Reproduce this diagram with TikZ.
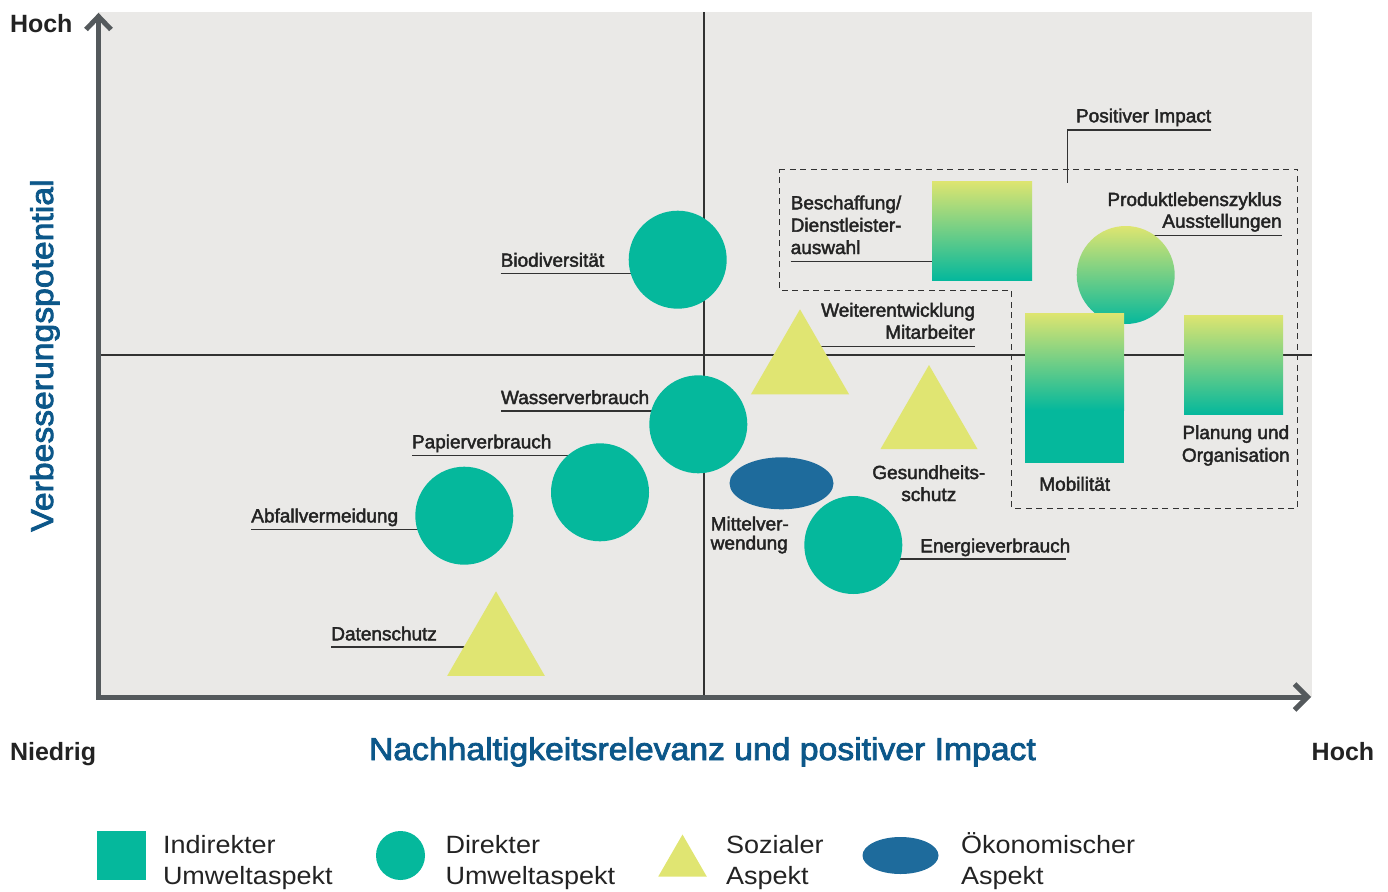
\documentclass[tikz,border=0pt]{standalone}
\usepackage{fontspec}
\setmainfont{Liberation Sans}
\newfontfamily\lblfont{Liberation Sans}[FakeBold=2.2]
\newfontfamily\ttlfont{Liberation Sans}[FakeBold=2.6,FakeStretch=1.07]
\newfontfamily\legfont{Liberation Sans}[FakeStretch=1.08]
\usetikzlibrary{shapes.geometric,calc}
\definecolor{gy}{RGB}{222,229,112}
\definecolor{gt}{RGB}{5,184,156}
\definecolor{tri}{RGB}{224,229,114}
\definecolor{ell}{RGB}{30,107,156}
\definecolor{panel}{RGB}{234,233,231}
\definecolor{axisc}{RGB}{84,89,92}
\definecolor{txt}{RGB}{35,35,35}
\definecolor{ttlblue}{RGB}{12,87,137}
\definecolor{linec}{RGB}{50,50,50}
\pgfdeclarelayer{bg}
\pgfdeclarelayer{lines}
\pgfsetlayers{bg,lines,main}
\begin{document}
\begin{tikzpicture}[x=1pt,y=-1pt,
  lbl/.style={font=\lblfont\fontsize{19}{22}\selectfont, text=txt, inner sep=0pt, outer sep=0pt},
  leg/.style={font=\legfont\fontsize{25}{30}\selectfont, text=txt, inner sep=0pt, outer sep=0pt, anchor=base west},
  ttl/.style={font=\ttlfont\fontsize{31.5}{36}\selectfont, text=ttlblue, inner sep=0pt, outer sep=0pt, anchor=base west},
  ends/.style={font=\bfseries\fontsize{25}{30}\selectfont, text=txt, inner sep=0pt, outer sep=0pt, anchor=base west},
  dot/.style={circle, minimum size=98pt, inner sep=0pt, outer sep=0pt, fill=gt},
  tria/.style={regular polygon, regular polygon sides=3, inner sep=0pt, outer sep=0pt, fill=tri},
  grad/.style={rectangle, inner sep=0pt, outer sep=0pt, top color=gy, bottom color=gt},
  uline/.style={draw=linec, line width=1.3pt},
  midline/.style={draw=linec, line width=1.4pt},
  dashbox/.style={draw=linec, line width=1.5pt, dash pattern=on 6pt off 4.5pt},
  axisline/.style={draw=axisc, line width=5pt, line join=miter}
]
\useasboundingbox (0,0) rectangle (1388,891);
\begin{pgfonlayer}{bg}
  \fill[panel] (98,12) rectangle (1312,697);
\end{pgfonlayer}

% ---- shapes ----
\node[dot] (bio) at (677.7,259.7) {};
\node[dot] (wasser) at (698.3,424.3) {};
\node[dot] (papier) at (600,492.3) {};
\node[dot] (abfall) at (464.3,515.7) {};
\node[dot] (energie) at (853.3,545) {};
\node[tria, minimum size=112.6pt] (daten) at (496,647.6) {};
\node[tria, minimum size=113.4pt] (weiter) at (800,366) {};
\node[tria, minimum size=112pt] (gesund) at (929,421) {};
\node[ellipse, minimum width=104pt, minimum height=52pt, inner sep=0pt, fill=ell] (mittel) at (781.5,483.3) {};
\node[grad, minimum width=100pt, minimum height=99pt] (besch) at (982,230.5) {};
\node[circle, minimum size=98pt, inner sep=0pt, outer sep=0pt, top color=gy, bottom color=gt] (prod) at (1125.7,275) {};
\node[rectangle, minimum width=99pt, minimum height=150pt, inner sep=0pt, outer sep=0pt, fill=gt] (mob) at (1074.5,388) {};
\shade[top color=gy, bottom color=gt] (mob.north west) rectangle ($(mob.north east)+(0,97)$);
\node[grad, minimum width=99pt, minimum height=99pt] (plan) at (1233.5,364.5) {};

% ---- labels ----
\node[lbl, anchor=base west] (biol) at (500.7,266.7) {Biodiversität};
\node[lbl, anchor=base west] (wasserl) at (501,404) {Wasserverbrauch};
\node[lbl, anchor=base west] (papierl) at (412,448.3) {Papierverbrauch};
\node[lbl, anchor=base west] (abfalll) at (251.3,522.3) {Abfallvermeidung};
\node[lbl, anchor=base west] (datenl) at (331.3,640.3) {Datenschutz};
\node[lbl, anchor=base west] (mittell) at (710.7,530.3) {Mittelver-};
\node[lbl, anchor=base west] (mittell2) at (710.7,549.5) {wendung};
\node[lbl, anchor=base] (gesundl) at (928.8,479) {Gesundheits-};
\node[lbl, anchor=base] (gesundl2) at (928.8,501) {schutz};
\node[lbl, anchor=base west] (energiel) at (920.3,552.3) {Energieverbrauch};
\node[lbl, anchor=base west] (beschl) at (790.7,209.3) {Beschaffung/};
\node[lbl, anchor=base west] (beschl2) at (790.7,231.7) {Dienstleister-};
\node[lbl, anchor=base west] (beschl3) at (790.7,254) {auswahl};
\node[lbl, anchor=base west] (posl) at (1076,122.3) {Positiver Impact};
\node[lbl, anchor=base east] (prodl) at (1281.7,206) {Produktlebenszyklus};
\node[lbl, anchor=base east] (prodl2) at (1281.7,227.7) {Ausstellungen};
\node[lbl, anchor=base east] (weiterl) at (975,316.7) {Weiterentwicklung};
\node[lbl, anchor=base east] (weiterl2) at (975,338.7) {Mitarbeiter};
\node[lbl, anchor=base] (mobl) at (1074.7,490.7) {Mobilität};
\node[lbl, anchor=base] (planl) at (1235.8,439) {Planung und};
\node[lbl, anchor=base] (planl2) at (1235.8,461.7) {Organisation};

% ---- lines layer ----
\coordinate (bio_u) at (500.7,273.7);
\coordinate (wasser_u) at (501,411);
\coordinate (papier_u) at (412,455.3);
\coordinate (abfall_u) at (251.3,529.7);
\coordinate (daten_u) at (331.3,647);
\coordinate (energie_u) at (1065.7,559);
\coordinate (besch_u) at (790.7,261.3);
\coordinate (prod_u) at (1281.7,235.7);
\coordinate (weiter_u) at (975,346.7);
\coordinate (pos_u) at (1211.3,130);
\coordinate (pos_corner) at (1067.3,130);
\coordinate (pos_end) at (1067.3,182.7);
\begin{pgfonlayer}{lines}
  \draw[midline] (704,12) -- (704,697);
  \draw[midline] (98,355) -- (1312,355);
  \draw[uline] (bio_u) -- (bio_u -| bio.center);
  \draw[uline] (wasser_u) -- (wasser_u -| wasser.center);
  \draw[uline] (papier_u) -- (papier_u -| papier.center);
  \draw[uline] (abfall_u) -- (abfall_u -| abfall.center);
  \draw[uline] (daten_u) -- (daten_u -| daten.center);
  \draw[uline] (energie_u) -- (energie_u -| energie.center);
  \draw[uline] (besch_u) -- (besch_u -| besch.center);
  \draw[uline] (prod_u) -- (prod_u -| prod.center);
  \draw[uline] (weiter_u) -- (weiter_u -| weiter.center);
  \draw[uline] (pos_u) -- (pos_corner) -- (pos_end);
  \draw[dashbox] (779.3,169.3) -- (1297.7,169.3) -- (1297.7,508.3) -- (1011.7,508.3) -- (1011.7,290.3) -- (779.3,290.3) -- cycle;
\end{pgfonlayer}

% ---- axes ----
\draw[axisline] (98.5,16.5) -- (98.5,697) -- (1307.5,697);
\draw[axisline] (86,29.5) -- (98.5,16.5) -- (111,29.5);
\draw[axisline] (1294.5,684) -- (1307.5,697) -- (1294.5,710);

% ---- axis texts ----
\node[ends] (hochtop) at (10,32.3) {Hoch};
\node[ends] (niedrig) at (10,760) {Niedrig};
\node[ends] (hochright) at (1311.7,760) {Hoch};
\node[ttl] (xtitle) at (369,760) {Nachhaltigkeitsrelevanz und positiver Impact};
\node[ttl, rotate=90] (ytitle) at (53,531.7) {Verbesserungspotential};

% ---- legend ----
\node[rectangle, minimum size=49pt, inner sep=0pt, fill=gt] (legsq) at (121.5,855.5) {};
\node[leg] (legsq1) at (163,853) {Indirekter};
\node[leg] (legsq2) at (163,884) {Umweltaspekt};
\node[circle, minimum size=49pt, inner sep=0pt, fill=gt] (legci) at (400.5,855.5) {};
\node[leg] (legci1) at (445.5,853) {Direkter};
\node[leg] (legci2) at (445.5,884) {Umweltaspekt};
\node[tria, minimum size=56pt] (legtr) at (682.5,862.5) {};
\node[leg] (legtr1) at (726,853.5) {Sozialer};
\node[leg] (legtr2) at (726,884) {Aspekt};
\node[ellipse, minimum width=76pt, minimum height=37pt, inner sep=0pt, fill=ell] (legel) at (900.5,855.5) {};
\node[leg] (legel1) at (961,853) {Ökonomischer};
\node[leg] (legel2) at (961,884) {Aspekt};
\end{tikzpicture}
\end{document}
